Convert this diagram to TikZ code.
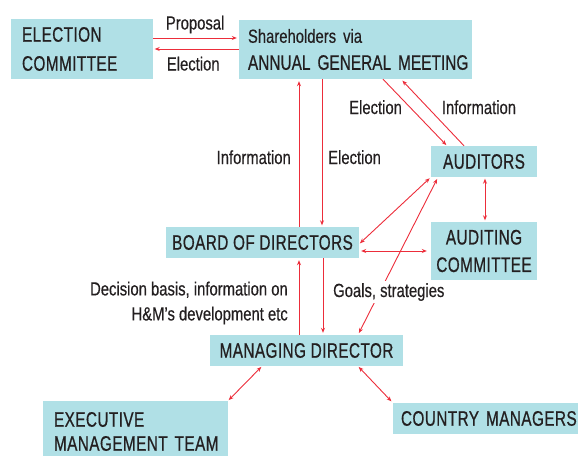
\documentclass[tikz,border=0pt]{standalone}
\usepackage{fontspec}
\setmainfont{Liberation Sans}[FakeStretch=0.78,FakeBold=0.4]
\newfontfamily\capsfont{Liberation Sans}[FakeStretch=0.73,LetterSpace=2,FakeBold=0.6]
\usetikzlibrary{arrows.meta}
\definecolor{boxc}{HTML}{B0E0E6}
\definecolor{arr}{HTML}{EC2D3A}
\definecolor{txt}{HTML}{231F20}
\hyphenpenalty=10000
\begin{document}
\begin{tikzpicture}[x=1pt,y=-1pt,
  box/.style={fill=boxc, inner ysep=0pt, text=txt, font=\capsfont\fontsize{21}{29}\selectfont},
  lbl/.style={text=txt, inner sep=0pt, font=\fontsize{19}{25}\selectfont},
  tip/.tip={Stealth[length=5pt,width=4pt]},
  con/.style={draw=arr, line width=0.9pt, -tip},
  bicon/.style={draw=arr, line width=0.9pt, tip-tip}]
\useasboundingbox (0,0) rectangle (578,455);

% boxes
\node[box, inner xsep=11pt, text width=120pt, minimum height=60pt, align=left] (ec) at (82,49) {ELECTION\\COMMITTEE};
\node[box, inner xsep=9pt, text width=215pt, minimum height=59pt, align=left, font=\capsfont\fontsize{21}{27}\selectfont] (sh) at (355.5,49.5)
  {\mbox{\rmfamily\fontsize{19}{27}\selectfont Shareholders via}\\\mbox{\addfontfeature{LetterSpace=0.3}ANNUAL GENERAL MEETING}};
\node[box, minimum width=106pt, minimum height=31pt, align=center] (aud) at (484,161.5) {AUDITORS};
\node[box, minimum width=106pt, minimum height=58pt, align=center, font=\capsfont\fontsize{21}{27.5}\selectfont] (ac) at (484,251) {AUDITING\\COMMITTEE};
\node[box, minimum width=193pt, minimum height=31pt] (bod) at (262.5,242.5) {BOARD OF DIRECTORS};
\node[box, minimum width=193pt, minimum height=31pt] (md) at (306.5,350.5) {MANAGING DIRECTOR};
\node[box, inner xsep=11pt, text width=163pt, minimum height=61pt, align=left, font=\capsfont\fontsize{21}{24}\selectfont] (emt) at (135.5,431.5) {EXECUTIVE\\\mbox{MANAGEMENT TEAM}};
\node[box, inner xsep=8pt, text width=169pt, minimum height=31pt, align=left] (cm) at (485.5,418.5) {\mbox{COUNTRY MANAGERS}};

% connectors
\draw[con, shorten >=2pt] (ec.east |- 0,38) -- (sh.west |- 0,38);
\draw[con, shorten >=1.5pt] (sh.west |- 0,49) -- (ec.east |- 0,49);
\draw[con, shorten >=2pt] (bod.north -| 299,0) -- (sh.south -| 299,0);
\draw[con, shorten >=1.5pt] (sh.south -| 322,0) -- (bod.north -| 322,0);
\draw[con, shorten >=1pt] (sh.south -| 383,0) -- (aud.north -| 447,0);
\draw[con, shorten >=2pt] (aud.north -| 464,0) -- (sh.south -| 401,0);
\draw[bicon, shorten <=1.5pt, shorten >=1.5pt] (aud.south -| 485,0) -- (ac.north -| 485,0);
\draw[bicon, shorten <=1pt, shorten >=1.5pt] (bod.east |- 0,244) -- (aud.south west);
\draw[bicon, shorten <=2pt, shorten >=4pt] (bod.east |- 0,251) -- (ac.west |- 0,251);
\draw[bicon, shorten <=2pt, shorten >=2pt] (md.north -| 358,0) -- (aud.south -| 438,0);
\draw[con, shorten >=2pt] (bod.south -| 323,0) -- (md.north -| 323,0);
\draw[con, shorten >=2pt] (md.north -| 299,0) -- (bod.south -| 299,0);
\draw[bicon, shorten <=1pt, shorten >=1pt] (md.south -| 262,0) -- (emt.north -| 228,0);
\draw[bicon, shorten <=1pt, shorten >=2pt] (md.south -| 358,0) -- (cm.north west);

% labels
\node[lbl, anchor=base west] (lprop) at (165.7,29.5) {Proposal};
\node[lbl, anchor=base west] (lel1) at (166.7,70.5) {Election};
\node[lbl, anchor=base east] (linf1) at (291,164) {Information};
\node[lbl, anchor=base west] (lel2) at (328,164) {Election};
\node[lbl, anchor=base west] (lel3) at (349,114) {Election};
\node[lbl, anchor=base west] (linf2) at (441.7,114) {Information};
\node[lbl, anchor=east, align=right] (ldec) at (288,303) {Decision basis, information on\\H\&M’s development etc};
\node[lbl, anchor=base west, fill=white, inner xsep=1pt, inner ysep=2pt] (lgoal) at (332,297) {Goals, strategies};
\end{tikzpicture}
\end{document}
